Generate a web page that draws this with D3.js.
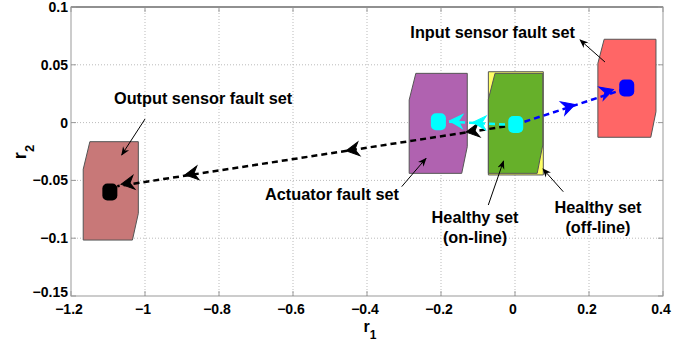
<!DOCTYPE html>
<html>
<head>
<meta charset="utf-8">
<script src="https://cdn.jsdelivr.net/npm/d3@7"></script>
<style>
  body { margin: 0; background: #fff; }
  text { font-family: "Liberation Sans", Arial, sans-serif; font-weight: bold; fill: #000; }
</style>
</head>
<body>
<div id="chart"></div>
<script>
// axis ticks
const xTicks = [-1.2, -1, -0.8, -0.6, -0.4, -0.2, 0, 0.2, 0.4];
const yTicks = [-0.15, -0.1, -0.05, 0, 0.05, 0.1];

// fault sets (polygon vertices, r1/r2)
const outputSet   = [[-1.149, -0.0165], [-1.018, -0.0165], [-1.018, -0.0785], [-1.034, -0.1016], [-1.167, -0.1016], [-1.167, -0.0404]];
const actuatorSet = [[-0.268, 0.0426], [-0.129, 0.0426], [-0.129, -0.0208], [-0.144, -0.0439], [-0.286, -0.0439], [-0.286, 0.0196]];
const offlineSet  = [[-0.072, 0.044], [0.0765, 0.044], [0.0765, -0.0453], [-0.072, -0.0453]];
const onlineSet   = [[-0.054, 0.0426], [0.075, 0.0426], [0.075, -0.0194], [0.060, -0.0439], [-0.072, -0.0439], [-0.072, 0.0202]];
const inputSet    = [[0.241, 0.0721], [0.381, 0.0721], [0.381, 0.0094], [0.367, -0.0127], [0.224, -0.0127], [0.224, 0.0513]];

// residual trajectories
const blackPath = [[0, -0.002], [-1.075, -0.055]];
const cyanPath  = [[0, -0.002], [-0.207, 0.0012]];
const bluePath  = [[0, -0.002], [0.302, 0.0297]];

// arrow markers on trajectories
const blackArrows = [[-0.1135, -0.0073], [-0.438, -0.0235], [-0.873, -0.0442], [-1.046, -0.0525]];
const cyanArrows  = [[-0.095, 0.0], [-0.158, 0.0012]];
const blueArrows  = [[0.144, 0.0138], [0.248, 0.0267]];

// clusters of residual points
const blobs = [
  {x: -1.095, y: -0.060, c: "#000"},
  {x: 0.002, y: -0.0016, c: "#00ffff"},
  {x: -0.207, y: 0.0008, c: "#00ffff"},
  {x: 0.302, y: 0.030, c: "#0000ff"}
];

// annotations
const labels = [
  {lines: ["Output sensor fault set"], x: -0.843, y: 0.0161, from: [-1.0, 0.0031], to: [-1.063, -0.028]},
  {lines: ["Input sensor fault set"], x: -0.0603, y: 0.0734, from: [0.2432, 0.0524], to: [0.1757, 0.0715]},
  {lines: ["Actuator fault set"], x: -0.4946, y: -0.067, from: [-0.3062, -0.0554], to: [-0.2405, -0.0309]},
  {lines: ["Healthy set", "(on-line)"], x: -0.108, y: -0.0871, from: [-0.0722, -0.0713], to: [-0.031, -0.0332]},
  {lines: ["Healthy set", "(off-line)"], x: 0.2243, y: -0.0782, from: [0.1305, -0.0598], to: [0.0757, -0.0401]}
];

const width = 699, height = 347;
const x = d3.scaleLinear().domain([-1.2, 0.4]).range([71, 663]);
const y = d3.scaleLinear().domain([-0.15, 0.1]).range([296, 7]);

const svg = d3.select("#chart").append("svg")
  .attr("width", width).attr("height", height);

svg.append("defs").append("marker")
  .attr("id", "ah")
  .attr("viewBox", "0 -5 10 10")
  .attr("refX", 9).attr("refY", 0)
  .attr("markerWidth", 9).attr("markerHeight", 9)
  .attr("markerUnits", "userSpaceOnUse")
  .attr("orient", "auto")
  .append("path").attr("d", "M0,-4L10,0L0,4L3,0Z").attr("fill", "#000");

// grid
svg.append("g").selectAll("line").data(xTicks.slice(1, -1)).join("line")
  .attr("x1", d => x(d)).attr("x2", d => x(d)).attr("y1", y(0.1)).attr("y2", y(-0.15))
  .attr("stroke", "#bbb").attr("stroke-dasharray", "1,2");
svg.append("g").selectAll("line").data(yTicks.slice(1, -1)).join("line")
  .attr("y1", d => y(d)).attr("y2", d => y(d)).attr("x1", x(-1.2)).attr("x2", x(0.4))
  .attr("stroke", "#bbb").attr("stroke-dasharray", "1,2");

// sets
const line = d3.line().x(d => x(d[0])).y(d => y(d[1]));
const sets = [
  [outputSet, "#c87878"],
  [actuatorSet, "#b062b0"],
  [offlineSet, "#ffff66"],
  [onlineSet, "#66b02a"],
  [inputSet, "#ff6666"]
];
svg.append("g").selectAll("path").data(sets).join("path")
  .attr("d", d => line(d[0]) + "Z")
  .attr("fill", d => d[1])
  .attr("stroke", "#555").attr("stroke-width", 1);

// trajectories
const paths = [[blackPath, "#000"], [cyanPath, "#00ffff"], [bluePath, "#0000ff"]];
svg.append("g").selectAll("path").data(paths).join("path")
  .attr("d", d => line(d[0]))
  .attr("fill", "none").attr("stroke", d => d[1])
  .attr("stroke-width", 2.5).attr("stroke-dasharray", "6,4");

// arrowheads on trajectories
function drawArrows(pts, path, color) {
  const a = path[0], b = path[path.length - 1];
  const ang = Math.atan2(y(b[1]) - y(a[1]), x(b[0]) - x(a[0])) * 180 / Math.PI;
  svg.append("g").selectAll("path").data(pts).join("path")
    .attr("transform", d => `translate(${x(d[0])},${y(d[1])}) rotate(${ang})`)
    .attr("d", "M7,0L-6,-7L-2,0L-6,7Z")
    .attr("fill", color).attr("stroke", color).attr("stroke-width", 1);
}
drawArrows(blackArrows, blackPath, "#000");
drawArrows(cyanArrows, cyanPath, "#00ffff");
drawArrows(blueArrows, bluePath, "#0000ff");

// blobs
svg.append("g").selectAll("rect").data(blobs).join("rect")
  .attr("x", d => x(d.x) - 7.5).attr("y", d => y(d.y) - 8.5)
  .attr("width", 15).attr("height", 17).attr("rx", 5)
  .attr("fill", d => d.c);

// axes box
svg.append("rect")
  .attr("x", x(-1.2)).attr("y", y(0.1))
  .attr("width", x(0.4) - x(-1.2)).attr("height", y(-0.15) - y(0.1))
  .attr("fill", "none").attr("stroke", "#999");
svg.append("line")
  .attr("x1", x(-1.2)).attr("x2", x(0.4)).attr("y1", y(0.1)).attr("y2", y(0.1))
  .attr("stroke", "#555");

// tick marks (inward)
const tk = svg.append("g").attr("stroke", "#999");
xTicks.forEach(t => {
  tk.append("line").attr("x1", x(t)).attr("x2", x(t)).attr("y1", y(-0.15)).attr("y2", y(-0.15) - 5);
  tk.append("line").attr("x1", x(t)).attr("x2", x(t)).attr("y1", y(0.1)).attr("y2", y(0.1) + 5);
});
yTicks.forEach(t => {
  tk.append("line").attr("y1", y(t)).attr("y2", y(t)).attr("x1", x(-1.2)).attr("x2", x(-1.2) + 5);
  tk.append("line").attr("y1", y(t)).attr("y2", y(t)).attr("x1", x(0.4)).attr("x2", x(0.4) - 5);
});

// tick labels
svg.append("g").selectAll("text").data(xTicks).join("text")
  .attr("x", d => x(d) - 2).attr("y", 314)
  .attr("text-anchor", "middle").style("font-size", "14px")
  .text(d => d3.format("")(d));
svg.append("g").selectAll("text").data(yTicks).join("text")
  .attr("x", 68).attr("y", d => d === -0.15 ? y(d) - 4 : y(d)).attr("dy", "0.36em")
  .attr("text-anchor", "end").style("font-size", "14px")
  .text(d => d3.format("")(d));

// axis labels
const xl = svg.append("text").attr("x", 370).attr("y", 332)
  .attr("text-anchor", "middle").style("font-size", "16px");
xl.append("tspan").text("r");
xl.append("tspan").attr("dy", 7).style("font-size", "12px").text("1");

const yl = svg.append("text").attr("transform", "translate(26,152) rotate(-90)")
  .attr("text-anchor", "middle").style("font-size", "18px");
yl.append("tspan").text("r");
yl.append("tspan").attr("dy", 8).style("font-size", "13px").text("2");

// annotations
const ann = svg.append("g");
labels.forEach(l => {
  ann.append("line")
    .attr("x1", x(l.from[0])).attr("y1", y(l.from[1]))
    .attr("x2", x(l.to[0])).attr("y2", y(l.to[1]))
    .attr("stroke", "#000").attr("stroke-width", 1)
    .attr("marker-end", "url(#ah)");
  const t = ann.append("text").attr("x", x(l.x)).attr("y", y(l.y))
    .attr("text-anchor", "middle").style("font-size", "16.3px");
  l.lines.forEach((s, i) => {
    t.append("tspan").attr("x", x(l.x)).attr("dy", i === 0 ? 0 : 20).text(s);
  });
});
</script>
</body>
</html>
